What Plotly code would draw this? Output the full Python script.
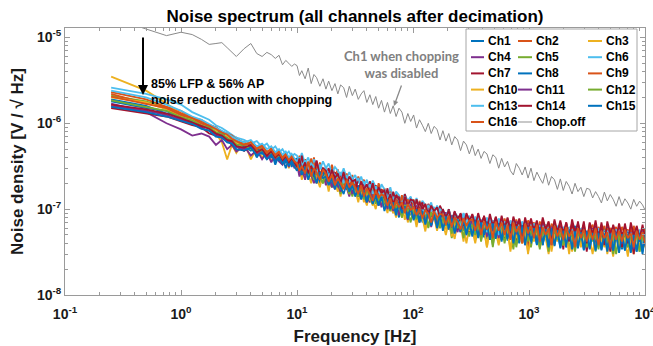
import plotly.graph_objects as go

# ---------------- data (noise density in nV/sqrt(Hz)) ----------------
freq_low = [0.25, 0.5, 0.75, 1.0, 1.25, 1.5, 1.75, 2.0, 2.25, 2.5, 2.75, 3.0,
            3.5, 4.0, 4.5, 5.0, 5.5, 6.0, 6.5, 7.0, 7.5, 8.0, 8.5, 9.0, 9.5]
freq_high = [10, 10.5, 11, 11.75, 12.5, 13.25, 14, 14.75, 15.75, 16.75,
             17.75, 18.75, 20, 21.25, 22.5, 23.75, 25.25, 26.75, 28.25, 30,
             31.75, 33.75, 35.75, 37.75, 40, 42.5, 45, 47.75, 50.5, 53.5,
             56.75, 60.25, 63.75, 67.5, 71.5, 75.75, 80.25, 85, 90.25, 95.5,
             101.25, 107.25, 113.75, 120.5, 127.75, 135.5, 143.5, 152, 161.25, 171,
             181, 192, 203.5, 215.75, 228.75, 242.5, 257, 272.5, 288.75, 306,
             324.5, 344, 364.5, 386.25, 409.5, 434, 460, 487.75, 517, 548,
             581, 615.75, 652.75, 692, 733.5, 777.5, 824, 873.5, 926, 981.5,
             1040, 1103, 1169, 1239, 1313, 1392, 1476, 1564, 1658, 1757,
             1863, 1975, 2093, 2219, 2352, 2493, 2643, 2801, 2969, 3147,
             3336, 3536, 3749, 3974, 4212, 4465, 4733, 5017, 5318, 5637,
             5975, 6333, 6713, 7116, 7543, 7996, 8475, 8984, 9523, 10000]
freq = freq_low + freq_high

ch1 = [1800, 1500, 1400, 1100, 1050, 900, 950, 760, 720, 700, 560, 600,
       480, 560, 400, 500, 380, 470, 330, 430, 400, 300, 390, 310, 380,
       390, 250, 360, 280, 230, 340, 260, 300, 200, 290,
       230, 270, 180, 250, 200, 160, 240, 170, 210, 150,
       200, 140, 190, 150, 130, 180, 120, 170, 110, 150,
       120, 150, 95, 135, 105, 80, 130, 90, 120, 85,
       115, 80, 105, 70, 100, 90, 65, 95, 75, 90,
       60, 90, 70, 85, 55, 80, 65, 78, 50, 75,
       58, 80, 48, 72, 62, 45, 75, 55, 70, 42,
       68, 50, 72, 46, 65, 58, 40, 70, 52, 64,
       44, 66, 50, 62, 38, 60, 52, 65, 42, 58,
       48, 62, 36, 58, 50, 64, 40, 56, 52, 34,
       60, 46, 55, 38, 58, 50, 62, 36, 54, 48,
       58, 34, 56, 46, 60, 38, 52, 48, 57, 40]
ch2 = [2300, 1900, 1550, 1400, 1150, 1100, 950, 900, 780, 760, 640, 680,
       560, 600, 500, 560, 450, 500, 420, 480, 400, 450, 380, 430, 360,
       300, 420, 280, 380, 310, 260, 400, 240, 350, 270,
       310, 220, 330, 240, 290, 200, 280, 230, 180, 250,
       170, 240, 190, 220, 150, 210, 180, 140, 200, 160,
       175, 130, 160, 110, 150, 140, 95, 145, 120, 110,
       130, 85, 125, 100, 115, 80, 110, 95, 70, 105,
       95, 70, 100, 65, 90, 80, 60, 88, 75, 62,
       85, 60, 78, 52, 82, 66, 74, 50, 80, 62,
       54, 78, 60, 72, 48, 76, 58, 68, 44, 74,
       62, 70, 46, 72, 56, 66, 42, 68, 58, 50,
       70, 44, 64, 56, 68, 40, 62, 54, 66, 46,
       58, 66, 42, 62, 52, 64, 38, 60, 55, 62,
       44, 62, 52, 58, 40, 64, 50, 56, 46, 60]
ch3 = [3500, 2400, 1700, 1300, 1150, 1000, 900, 760, 600, 380, 560, 450,
       620, 380, 520, 400, 480, 360, 440, 390, 330, 410, 300, 380, 340,
       280, 330, 220, 310, 260, 200, 300, 240, 180, 270,
       230, 160, 250, 190, 210, 140, 220, 180, 150, 200,
       170, 120, 180, 140, 110, 160, 130, 100, 150, 115,
       125, 90, 135, 100, 80, 120, 95, 110, 70, 100,
       95, 62, 90, 80, 55, 88, 70, 82, 58, 75,
       68, 50, 72, 60, 45, 70, 55, 64, 40, 62,
       58, 40, 62, 50, 56, 36, 60, 48, 54, 38,
       56, 44, 60, 34, 54, 48, 58, 40, 52, 32,
       50, 42, 56, 36, 52, 46, 30, 50, 44, 54,
       38, 52, 44, 50, 32, 48, 42, 55, 36, 48,
       44, 30, 50, 40, 46, 36, 52, 42, 28, 48,
       40, 50, 34, 46, 42, 30, 48, 38, 44, 36]
ch4 = [1700, 1350, 1000, 850, 720, 760, 700, 560, 640, 500, 560, 470,
       540, 420, 490, 380, 460, 350, 430, 360, 330, 400, 310, 380, 300,
       330, 240, 300, 220, 350, 250, 200, 290, 230, 260,
       190, 250, 200, 170, 230, 160, 210, 180, 140, 200,
       150, 190, 130, 170, 140, 120, 165, 125, 150, 105,
       140, 100, 120, 90, 130, 85, 110, 95, 75, 105,
       90, 110, 70, 100, 80, 95, 62, 90, 75, 88,
       70, 92, 58, 84, 66, 54, 80, 62, 76, 52,
       72, 56, 80, 50, 68, 62, 44, 74, 56, 66,
       48, 70, 56, 64, 42, 72, 52, 60, 38, 68,
       58, 64, 40, 66, 50, 58, 36, 62, 54, 46,
       64, 40, 58, 50, 62, 34, 56, 48, 60, 42,
       54, 60, 38, 56, 46, 58, 34, 54, 50, 44,
       60, 40, 52, 48, 56, 36, 54, 44, 58, 40]
ch5 = [2100, 1800, 1500, 1250, 1100, 1000, 900, 840, 760, 700, 640, 580,
       560, 600, 480, 520, 440, 480, 410, 450, 390, 420, 360, 400, 350,
       340, 280, 360, 250, 320, 270, 230, 300, 250, 200,
       270, 220, 180, 240, 200, 150, 220, 180, 200, 140,
       190, 150, 175, 135, 160, 125, 170, 115, 150, 130,
       110, 140, 100, 125, 92, 120, 80, 115, 95, 70,
       105, 88, 96, 75, 92, 60, 90, 78, 84, 64,
       82, 66, 78, 46, 74, 62, 70, 56, 72, 48,
       68, 54, 70, 42, 66, 56, 62, 36, 64, 52,
       60, 46, 66, 52, 34, 62, 50, 58, 42, 60,
       36, 58, 48, 56, 44, 60, 32, 56, 46, 52,
       54, 42, 58, 34, 52, 46, 56, 38, 54, 44,
       50, 56, 32, 52, 44, 58, 40, 50, 30, 54,
       48, 36, 52, 44, 56, 40, 50, 32, 54, 46]
ch6 = [2600, 2200, 1900, 1650, 1350, 1200, 1100, 950, 880, 800, 740, 680,
       640, 580, 620, 530, 580, 490, 540, 460, 500, 430, 470, 410, 440,
       420, 360, 450, 340, 400, 310, 380, 330, 290, 360,
       300, 340, 260, 310, 280, 240, 300, 230, 270, 220,
       250, 200, 240, 190, 220, 170, 215, 180, 150, 195,
       170, 140, 180, 130, 160, 145, 120, 150, 125, 140,
       110, 135, 100, 125, 112, 95, 120, 88, 110, 92,
       98, 80, 100, 74, 92, 82, 66, 90, 72, 84,
       62, 82, 70, 76, 56, 80, 66, 74, 52, 78,
       64, 72, 50, 74, 60, 68, 46, 72, 58, 66,
       48, 68, 56, 64, 44, 66, 54, 60, 42, 64,
       56, 60, 44, 62, 52, 58, 40, 60, 50, 56,
       42, 58, 50, 60, 38, 56, 48, 54, 40, 58,
       50, 54, 38, 56, 46, 52, 42, 58, 36, 52]
ch7 = [1500, 1300, 1200, 1050, 950, 900, 760, 720, 680, 640, 560, 540,
       480, 520, 440, 480, 400, 450, 380, 420, 360, 400, 340, 380, 330,
       380, 280, 420, 260, 340, 300, 240, 360, 220, 300,
       250, 300, 210, 270, 180, 260, 200, 240, 170, 230,
       160, 230, 180, 200, 150, 210, 130, 190, 150, 170,
       125, 175, 110, 160, 120, 140, 95, 150, 110, 130,
       85, 130, 100, 120, 75, 115, 95, 105, 70, 110,
       90, 65, 100, 72, 95, 58, 90, 70, 85, 55,
       88, 62, 80, 48, 84, 60, 76, 44, 82, 58,
       74, 46, 80, 56, 72, 40, 78, 54, 70, 36,
       74, 50, 70, 42, 76, 52, 66, 38, 72, 50,
       64, 34, 70, 48, 66, 40, 72, 46, 62, 32,
       68, 46, 64, 38, 70, 44, 60, 32, 66, 48,
       62, 36, 68, 44, 58, 30, 64, 46, 60, 38]
ch8 = [1900, 1600, 1300, 1250, 1050, 1000, 900, 800, 760, 680, 640, 560,
       540, 480, 520, 440, 470, 400, 430, 370, 410, 350, 380, 330, 360,
       300, 360, 270, 320, 240, 330, 250, 290, 220, 270,
       210, 260, 190, 240, 170, 225, 180, 210, 160, 200,
       150, 190, 140, 175, 130, 165, 120, 155, 115, 145,
       105, 140, 100, 130, 92, 125, 85, 115, 80, 110,
       78, 108, 74, 102, 70, 98, 66, 94, 64, 88,
       60, 86, 58, 82, 55, 80, 54, 78, 52, 76,
       50, 75, 48, 73, 47, 72, 46, 70, 45, 69,
       44, 68, 43, 67, 42, 66, 41, 65, 40, 64,
       40, 63, 39, 62, 38, 61, 37, 60, 37, 59,
       36, 58, 36, 58, 35, 57, 35, 57, 34, 56,
       34, 56, 34, 55, 33, 55, 33, 55, 33, 54,
       33, 54, 33, 54, 32, 54, 32, 53, 32, 53]
ch9 = [2200, 1700, 1550, 1300, 1150, 1050, 950, 900, 800, 760, 720, 650,
       600, 560, 520, 560, 460, 510, 430, 470, 400, 440, 380, 410, 370,
       310, 380, 290, 350, 260, 390, 280, 320, 240, 300,
       270, 220, 290, 200, 250, 230, 180, 260, 190, 220,
       200, 160, 210, 150, 190, 170, 130, 180, 140, 160,
       150, 110, 160, 120, 135, 100, 145, 105, 130, 95,
       125, 90, 115, 100, 82, 112, 90, 104, 72, 100,
       88, 70, 92, 64, 86, 74, 80, 58, 84, 68,
       78, 56, 82, 62, 74, 50, 80, 60, 70, 46,
       76, 58, 70, 50, 74, 56, 66, 44, 72, 54,
       68, 50, 72, 46, 64, 56, 70, 42, 66, 52,
       62, 44, 68, 52, 60, 38, 66, 50, 58, 46,
       64, 50, 56, 40, 62, 48, 60, 36, 58, 46,
       60, 44, 56, 36, 62, 48, 54, 42, 58, 38]
ch10 = [2000, 1750, 1450, 1200, 1100, 960, 880, 820, 700, 720, 620, 600,
        500, 560, 450, 500, 420, 460, 390, 430, 370, 400, 350, 380, 340,
        290, 340, 260, 310, 230, 290, 250, 200, 280, 230,
        250, 180, 240, 200, 160, 220, 175, 200, 150, 190,
        160, 140, 175, 120, 160, 135, 110, 150, 125, 140,
        100, 135, 110, 90, 125, 100, 115, 75, 108, 92,
        100, 70, 95, 82, 60, 90, 76, 86, 56, 82,
        72, 58, 76, 48, 70, 62, 66, 42, 70, 56,
        64, 44, 66, 54, 60, 36, 64, 50, 58, 40,
        62, 48, 56, 32, 60, 46, 54, 40, 58, 30,
        54, 44, 58, 36, 52, 46, 56, 32, 50, 42,
        56, 38, 52, 30, 54, 44, 50, 36, 54, 40,
        48, 52, 34, 50, 42, 54, 30, 48, 44, 50,
        36, 50, 44, 28, 52, 40, 48, 34, 50, 42]
ch11 = [1600, 1400, 1250, 1100, 1000, 880, 820, 740, 700, 620, 600, 530,
        500, 540, 430, 480, 400, 450, 380, 420, 350, 390, 340, 370, 320,
        350, 270, 320, 250, 300, 240, 280, 200, 260, 230,
        210, 250, 180, 230, 190, 160, 220, 170, 200, 150,
        190, 140, 175, 150, 120, 165, 130, 150, 110, 145,
        140, 105, 130, 95, 125, 110, 85, 120, 90, 115,
        80, 110, 88, 100, 70, 98, 82, 92, 64, 90,
        84, 66, 88, 60, 80, 70, 54, 82, 64, 76,
        70, 52, 76, 60, 68, 48, 74, 56, 66, 46,
        74, 54, 66, 46, 72, 52, 64, 42, 70, 50,
        66, 48, 62, 40, 68, 50, 60, 38, 64, 48,
        62, 42, 66, 48, 58, 36, 64, 46, 60, 40,
        58, 44, 62, 36, 60, 46, 56, 34, 62, 44,
        56, 40, 60, 46, 54, 34, 58, 42, 56, 38]
ch12 = [1850, 1550, 1400, 1180, 1080, 940, 900, 780, 760, 660, 640, 560,
        560, 500, 470, 480, 430, 450, 400, 420, 380, 400, 350, 380, 340,
        310, 330, 270, 300, 250, 320, 220, 280, 240, 200,
        260, 210, 230, 180, 240, 170, 210, 190, 150, 200,
        175, 140, 185, 130, 165, 140, 115, 160, 125, 145,
        120, 130, 95, 125, 105, 115, 80, 112, 95, 105,
        92, 76, 100, 84, 90, 62, 92, 76, 86, 60,
        80, 64, 74, 52, 78, 60, 72, 46, 74, 58,
        66, 50, 70, 44, 64, 54, 68, 38, 62, 52,
        64, 40, 60, 50, 64, 36, 58, 48, 62, 42,
        56, 46, 60, 34, 56, 48, 52, 40, 58, 44,
        52, 38, 56, 46, 50, 32, 54, 44, 52, 36,
        54, 42, 50, 34, 56, 44, 48, 38, 52, 30,
        50, 42, 54, 36, 48, 44, 52, 32, 50, 40]
ch13 = [2400, 2000, 1650, 1400, 1200, 1100, 980, 900, 820, 760, 700, 650,
        600, 640, 540, 580, 500, 540, 460, 500, 430, 470, 400, 440, 390,
        360, 400, 320, 370, 290, 340, 310, 260, 330, 280,
        300, 240, 280, 250, 220, 270, 200, 250, 210, 230,
        200, 230, 180, 210, 165, 195, 150, 185, 160, 140,
        165, 130, 155, 120, 145, 125, 110, 140, 105, 130,
        120, 95, 118, 100, 88, 112, 94, 106, 80, 100,
        92, 74, 96, 68, 90, 76, 62, 88, 70, 80,
        76, 58, 80, 64, 72, 54, 78, 62, 70, 50,
        72, 56, 68, 48, 74, 58, 66, 44, 70, 56,
        66, 50, 70, 46, 64, 54, 62, 42, 68, 52,
        60, 46, 64, 52, 58, 40, 62, 50, 56, 44,
        62, 48, 58, 42, 60, 50, 56, 38, 60, 46,
        58, 44, 56, 50, 52, 40, 58, 46, 54, 42]
ch14 = [1650, 1450, 1300, 1150, 1020, 920, 860, 760, 720, 640, 620, 540,
        520, 560, 460, 500, 420, 470, 400, 440, 370, 410, 350, 390, 340,
        310, 390, 280, 350, 260, 320, 240, 370, 250, 300,
        280, 210, 290, 230, 260, 200, 270, 190, 240, 210,
        220, 160, 210, 170, 195, 150, 200, 140, 180, 155,
        165, 120, 150, 115, 145, 130, 100, 140, 110, 130,
        125, 92, 120, 100, 115, 85, 110, 95, 105, 78,
        100, 80, 96, 70, 92, 78, 88, 64, 90, 74,
        86, 62, 90, 68, 82, 58, 88, 64, 80, 56,
        84, 60, 78, 52, 82, 62, 76, 48, 80, 58,
        78, 56, 74, 46, 80, 58, 72, 44, 76, 54,
        74, 52, 70, 42, 76, 54, 68, 48, 72, 40,
        70, 50, 74, 46, 66, 38, 72, 52, 64, 44,
        68, 48, 64, 40, 70, 50, 62, 44, 66, 46]
ch15 = [1550, 1350, 1200, 1080, 980, 860, 820, 700, 680, 600, 580, 500,
        480, 520, 420, 460, 380, 430, 360, 400, 340, 380, 320, 360, 310,
        280, 330, 250, 310, 220, 290, 250, 200, 270, 230,
        240, 190, 230, 170, 220, 180, 150, 200, 160, 190,
        140, 180, 130, 165, 120, 155, 115, 145, 110, 140,
        95, 130, 100, 120, 85, 115, 90, 108, 78, 104,
        74, 100, 70, 95, 66, 92, 64, 88, 60, 86,
        56, 82, 60, 78, 52, 76, 55, 74, 50, 72,
        48, 72, 46, 70, 50, 68, 44, 68, 46, 66,
        42, 66, 45, 64, 40, 63, 44, 62, 38, 62,
        42, 60, 38, 60, 40, 58, 36, 58, 38, 57,
        35, 56, 38, 56, 34, 55, 36, 54, 33, 54,
        35, 53, 33, 53, 34, 52, 32, 52, 33, 52,
        31, 51, 33, 51, 31, 50, 32, 50, 30, 50]
ch16 = [2050, 1700, 1500, 1250, 1150, 1000, 940, 860, 780, 740, 660, 620,
        560, 600, 500, 540, 450, 500, 420, 460, 390, 430, 370, 410, 360,
        340, 280, 320, 260, 360, 240, 300, 270, 220, 290,
        260, 210, 250, 190, 230, 200, 170, 220, 180, 200,
        180, 150, 190, 140, 175, 150, 125, 165, 135, 150,
        140, 110, 135, 100, 125, 105, 120, 90, 115, 98,
        105, 85, 102, 78, 98, 88, 70, 94, 80, 88,
        86, 66, 84, 62, 80, 70, 58, 78, 64, 74,
        76, 56, 74, 50, 72, 58, 68, 46, 72, 56,
        70, 50, 66, 44, 70, 54, 64, 40, 68, 52,
        64, 46, 66, 42, 62, 50, 60, 38, 64, 48,
        60, 44, 62, 48, 56, 36, 60, 46, 58, 42,
        58, 44, 60, 38, 56, 46, 54, 36, 58, 44,
        56, 42, 58, 46, 52, 36, 56, 44, 54, 40]
chop_off = [17000, 12500, 10500, 11500, 10800, 9500, 8300, 8500, 8700, 7600, 6700, 6000,
            7400, 8500, 6500, 6000, 6700, 6300, 5700, 6200, 4800, 5400, 5000, 4600, 4900,
            4700, 3600, 4100, 3300, 4400, 2900, 3700, 3400, 2700, 3300,
            2500, 3100, 2400, 2900, 2200, 2800, 2600, 2000, 2700, 2100,
            2500, 1900, 2200, 2400, 1750, 2150, 1650, 2050, 1500, 1850,
            1350, 1750, 1300, 1600, 1200, 1500, 1350, 1000, 1300, 1050,
            1250, 880, 1100, 950, 800, 1000, 760, 920, 850, 640,
            820, 620, 760, 560, 700, 640, 480, 620, 560, 440,
            560, 420, 500, 390, 470, 440, 340, 430, 400, 300,
            390, 310, 360, 280, 250, 340, 300, 250, 310, 230,
            300, 215, 270, 230, 200, 265, 190, 240, 220, 170,
            225, 165, 210, 185, 150, 200, 160, 180, 140, 175,
            170, 135, 160, 140, 118, 158, 125, 148, 130, 108,
            140, 110, 132, 118, 100, 130, 108, 124, 112, 98]

series_names = ["Ch1", "Ch2", "Ch3", "Ch4", "Ch5", "Ch6", "Ch7", "Ch8", "Ch9",
                "Ch10", "Ch11", "Ch12", "Ch13", "Ch14", "Ch15", "Ch16", "Chop.off"]
series_values = [ch1, ch2, ch3, ch4, ch5, ch6, ch7, ch8, ch9, ch10, ch11, ch12,
                 ch13, ch14, ch15, ch16, chop_off]

x_tick_vals = [0.1, 1, 10, 100, 1000, 10000]
x_tick_text = ["10<sup>-1</sup>", "10<sup>0</sup>", "10<sup>1</sup>", "10<sup>2</sup>",
               "10<sup>3</sup>", "10<sup>4</sup>"]
y_tick_vals = [1e-8, 1e-7, 1e-6, 1e-5]
y_tick_text = ["10<sup>-8</sup>", "10<sup>-7</sup>", "10<sup>-6</sup>", "10<sup>-5</sup>"]

# ---------------- styles ----------------
matlab_colors = ["#0072BD", "#D95319", "#EDB120", "#7E2F8E", "#77AC30", "#4DBEEE", "#A2142F"]
colors = [matlab_colors[i % 7] for i in range(16)] + ["#8a8a8a"]
widths = [1.8] * 16 + [1.0]
FONT = "Liberation Sans, Arial, sans-serif"
AXC = "#9a9a9a"

W, H = 653, 346
L, R, T, B = 65, 645, 28, 295


def px(xp):
    return (xp - L) / (R - L)


def py(yp):
    return (B - yp) / (B - T)


fig = go.Figure()
for name, vals, c, w in zip(series_names, series_values, colors, widths):
    fig.add_trace(go.Scatter(x=freq, y=[v * 1e-9 for v in vals], mode="lines", name=name,
                             line=dict(color=c, width=w), showlegend=False))

minor_x = [m * 10 ** e for e in range(-1, 4) for m in range(2, 10)]
minor_y = [m * 10 ** e for e in range(-8, -4) for m in range(2, 10)]

fig.update_layout(
    width=W, height=H,
    margin=dict(l=L, r=W - R, t=T, b=H - B),
    template="none",
    paper_bgcolor="white", plot_bgcolor="white",
    font=dict(family=FONT, color="#1a1a1a"),
    title=dict(text="Noise spectrum (all channels after decimation)", x=0.5, xref="paper",
               xanchor="center", y=1 - 16 / H, yanchor="middle",
               font=dict(size=17, weight="bold", color="#000000")),
    xaxis=dict(type="log", range=[-1, 4], tickmode="array", tickvals=x_tick_vals,
               ticktext=x_tick_text, ticks="inside", ticklen=5, tickwidth=1, tickcolor=AXC,
               showline=True, linecolor=AXC, linewidth=1, mirror="ticks", showgrid=False,
               zeroline=False, automargin=False, ticklabeloverflow="allow",
               ticklabelstandoff=6,
               tickfont=dict(size=14, weight="bold", color="#1a1a1a"),
               minor=dict(tickmode="array", tickvals=minor_x, ticks="inside", ticklen=3,
                          tickcolor=AXC, showgrid=False),
               title=dict(text="Frequency [Hz]", standoff=12,
                          font=dict(size=17, weight="bold", color="#1a1a1a"))),
    yaxis=dict(type="log", range=[-8, -4.89], tickmode="array", tickvals=y_tick_vals,
               ticktext=y_tick_text, ticks="inside", ticklen=5, tickwidth=1, tickcolor=AXC,
               showline=True, linecolor=AXC, linewidth=1, mirror="ticks", showgrid=False,
               zeroline=False, automargin=False,
               tickfont=dict(size=14, weight="bold", color="#1a1a1a"),
               minor=dict(tickmode="array", tickvals=minor_y, ticks="inside", ticklen=3,
                          tickcolor=AXC, showgrid=False),
               title=dict(text="Noise density [V / √ Hz]", standoff=8,
                          font=dict(size=17, weight="bold", color="#1a1a1a"))),
)

# annotations
fig.add_annotation(x=px(143), y=py(95), xref="paper", yref="paper", text="",
                   showarrow=True, ax=0, ay=-59, axref="pixel", ayref="pixel",
                   arrowhead=2, arrowsize=1, arrowwidth=2, arrowcolor="#000000")
fig.add_annotation(x=px(149), y=py(92), xref="paper", yref="paper",
                   text="85% LFP &amp; 56% AP<br>noise reduction with chopping",
                   showarrow=False, xanchor="left", yanchor="middle", align="left",
                   font=dict(size=12.5, weight="bold", color="#000000", family=FONT))
fig.add_annotation(x=px(401), y=py(64.5), xref="paper", yref="paper",
                   text="Ch1 when chopping<br>was disabled",
                   showarrow=False, xanchor="center", yanchor="middle", align="center",
                   font=dict(size=13, weight="bold", color="#808080", family="Lato, sans-serif"))
fig.add_annotation(x=px(394), y=py(106), xref="paper", yref="paper", text="",
                   showarrow=True, ax=8, ay=-22, axref="pixel", ayref="pixel",
                   arrowhead=2, arrowsize=0.8, arrowwidth=1.3, arrowcolor="#8a8a8a")

# legend box (3 columns, row-major)
fig.add_shape(type="rect", xref="paper", yref="paper", x0=px(466), x1=px(637),
              y0=py(131), y1=py(29), line=dict(color="#a6a6a6", width=1),
              fillcolor="white", layer="above")
col_line_x = [(471, 484), (518, 532), (588, 602)]
col_text_x = [486, 534, 604]
row_y0, row_dy = 41, 16.2
for i, (name, c) in enumerate(zip(series_names, colors)):
    r, k = divmod(i, 3)
    yy = row_y0 + r * row_dy
    fig.add_shape(type="line", xref="paper", yref="paper",
                  x0=px(col_line_x[k][0]), x1=px(col_line_x[k][1]), y0=py(yy), y1=py(yy),
                  line=dict(color=c if i < 16 else "#c8c8c8", width=2), layer="above")
    fig.add_annotation(x=px(col_text_x[k]), y=py(yy), xref="paper", yref="paper",
                       text=name, showarrow=False, xanchor="left", yanchor="middle",
                       font=dict(size=12, weight="bold", color="#000000", family=FONT))

fig.write_html("out.html", config={"displayModeBar": False})
